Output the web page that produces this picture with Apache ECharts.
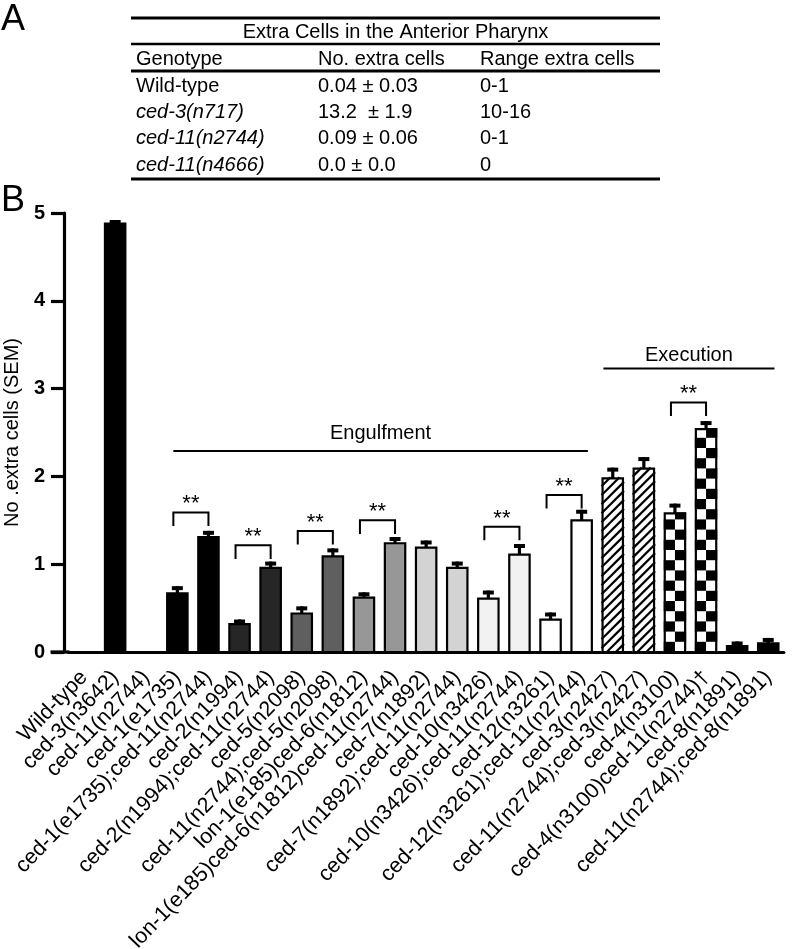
<!DOCTYPE html>
<html><head><meta charset="utf-8">
<script src="https://cdn.jsdelivr.net/npm/echarts@6/dist/echarts.min.js"></script>
<style>html,body{margin:0;padding:0;background:#fff}#c{width:793px;height:949px}</style>
</head><body><div id="c"></div>
<script>
// ---------- Panel A table ----------
const tableTitle = 'Extra Cells in the Anterior Pharynx';
const tableHeader = ['Genotype', 'No. extra cells', 'Range extra cells'];
const tableGenotypes = ['Wild-type', 'ced-3(n717)', 'ced-11(n2744)', 'ced-11(n4666)'];
const tableMeans = ['0.04 \u00b1 0.03', '13.2  \u00b1 1.9', '0.09 \u00b1 0.06', '0.0 \u00b1 0.0'];
const tableRanges = ['0-1', '10-16', '0-1', '0'];
const tableItalic = [false, true, true, true];

// ---------- Panel B chart ----------
const categories = [
  'Wild-type', 'ced-3(n3642)', 'ced-11(n2744)', 'ced-1(e1735)', 'ced-1(e1735);ced-11(n2744)',
  'ced-2(n1994)', 'ced-2(n1994);ced-11(n2744)', 'ced-5(n2098)', 'ced-11(n2744);ced-5(n2098)',
  'lon-1(e185)ced-6(n1812)', 'lon-1(e185)ced-6(n1812)ced-11(n2744)', 'ced-7(n1892)',
  'ced-7(n1892);ced-11(n2744)', 'ced-10(n3426)', 'ced-10(n3426);ced-11(n2744)', 'ced-12(n3261)',
  'ced-12(n3261);ced-11(n2744)', 'ced-3(n2427)', 'ced-11(n2744);ced-3(n2427)', 'ced-4(n3100)',
  'ced-4(n3100)ced-11(n2744)\u2020', 'ced-8(n1891)', 'ced-11(n2744);ced-8(n1891)'
];
const means = [0, 4.89, 0, 0.68, 1.32, 0.33, 0.97, 0.45, 1.10, 0.63, 1.25, 1.20, 0.97, 0.62, 1.12, 0.38, 1.51, 1.99, 2.10, 1.59, 2.55, 0.08, 0.11];
const sems  = [0, 0.03, 0, 0.07, 0.06, 0.04, 0.06, 0.07, 0.08, 0.05, 0.06, 0.07, 0.06, 0.08, 0.11, 0.07, 0.11, 0.11, 0.12, 0.10, 0.08, 0.04, 0.05];
const yTicks = [0, 1, 2, 3, 4, 5];

// significance brackets: [left index, right index], bracket top value
const sigPairs = [[3, 4], [5, 6], [7, 8], [9, 10], [13, 14], [15, 16], [19, 20]];
const sigHeights = [1.59, 1.215, 1.378, 1.50, 1.427, 1.788, 2.843];
const sigLabel = '**';

// groups
const groupNames = ['Engulfment', 'Execution'];
const groupRanges = [[3, 16], [17, 22]];
const groupLineY = [2.29, 3.23];
const groupLabelY = [2.49, 3.38];

// ---------- styles ----------
const FONT = "'Liberation Sans', Arial, Helvetica, sans-serif";
const barFill = ['#ffffff', '#000000', '#ffffff', '#000000', '#000000', '#262626', '#262626',
  '#5f5f5f', '#5f5f5f', '#979797', '#979797', '#d3d3d3', '#d3d3d3', '#f2f2f2', '#f2f2f2',
  '#ffffff', '#ffffff', 'hatch', 'hatch', 'checker', 'checker', '#000000', '#000000'];

const chart = echarts.init(document.getElementById('c'), null, {renderer: 'canvas'});

// table graphics
const tblL = 131, tblR = 660;
const colX = [136, 318, 480];
const rowY = [86, 112, 138, 165];
const g = [];
function hline(y, w) { g.push({type: 'line', shape: {x1: tblL, y1: y, x2: tblR, y2: y}, style: {stroke: '#000', lineWidth: w}, silent: true}); }
function txt(t, x, y, opts) {
  g.push({type: 'text', x: x, y: y, silent: true, style: Object.assign({text: t, fill: '#000', font: '20px ' + FONT, textAlign: 'left', textVerticalAlign: 'middle'}, opts || {})});
}
hline(18, 3); hline(44, 2.5); hline(71, 3); hline(179, 3);
txt(tableTitle, (tblL + tblR) / 2, 32, {textAlign: 'center'});
tableHeader.forEach((h, i) => txt(h, colX[i], 59));
tableGenotypes.forEach((gt, r) => {
  txt(gt, colX[0], rowY[r], {font: (tableItalic[r] ? 'italic ' : '') + '20px ' + FONT});
  txt(tableMeans[r], colX[1], rowY[r]);
  txt(tableRanges[r], colX[2], rowY[r]);
});
txt('A', 1, 20, {font: '36px ' + FONT});
txt('B', 1, 201, {font: '36px ' + FONT});

function renderBar(params, api) {
  const i = api.value(0), v = api.value(1), s = api.value(2);
  const band = api.size([1, 0])[0];
  const bw = band * 0.72;
  const base = api.coord([i, 0]);
  const top = api.coord([i, v]);
  const children = [];
  const fill = barFill[i];
  const x0 = base[0] - bw / 2, x1 = base[0] + bw / 2;
  const y0 = top[1], y1 = base[1];
  if (v > 0) {
    if (fill === 'hatch' || fill === 'checker') {
      children.push({type: 'rect', shape: {x: x0, y: y0, width: bw, height: y1 - y0}, style: {fill: '#fff'}});
      if (fill === 'hatch') {
        const step = 9;
        for (let c = x0 + y0; c < x1 + y1 + step; c += step) {
          const xa = Math.max(x0, c - y1), xb = Math.min(x1, c - y0);
          if (xb > xa) children.push({type: 'line', shape: {x1: xa, y1: c - xa, x2: xb, y2: c - xb}, style: {stroke: '#000', lineWidth: 2.2}});
        }
      } else {
        const cw = bw / 2, ch = 10.2;
        let r = 0;
        for (let yb = y1; yb > y0; yb -= ch, r++) {
          const yt = Math.max(y0, yb - ch);
          for (let c = 0; c < 2; c++) {
            if ((r + c) % 2 === 0) children.push({type: 'rect', shape: {x: x0 + c * cw, y: yt, width: cw, height: yb - yt}, style: {fill: '#000'}});
          }
        }
      }
      children.push({type: 'rect', shape: {x: x0 + 1, y: y0 + 1, width: bw - 2, height: y1 - y0 - 1}, style: {fill: 'none', stroke: '#000', lineWidth: 2.2}});
    } else {
      children.push({type: 'rect', shape: {x: x0 + 1, y: y0 + 1, width: bw - 2, height: y1 - y0 - 1}, style: {fill: fill, stroke: '#000', lineWidth: 2.2}});
    }
    // error bar (upper only)
    const cap = api.coord([i, v + s]);
    children.push({type: 'rect', shape: {x: base[0] - 1.6, y: cap[1], width: 3.2, height: y0 - cap[1] + 1}, style: {fill: '#000'}});
    children.push({type: 'rect', shape: {x: base[0] - 5.5, y: cap[1], width: 11, height: 4}, style: {fill: '#000'}});
  }
  return {type: 'group', children: children};
}

function renderSig(params, api) {
  const a = api.value(0), b = api.value(1), h = api.value(2);
  const pl = api.coord([a, h]), pr = api.coord([b, h]);
  const leg = api.coord([a, h - 0.155])[1];
  const xl = pl[0] - 4, xr = pr[0];
  return {type: 'group', children: [
    {type: 'polyline', shape: {points: [[xl, leg], [xl, pl[1]], [xr, pl[1]], [xr, leg]]}, style: {stroke: '#000', lineWidth: 2, fill: null}},
    {type: 'text', x: (xl + xr) / 2, y: pl[1] - 8, style: {text: sigLabel, font: '22px ' + FONT, fill: '#000', textAlign: 'center', textVerticalAlign: 'middle'}}
  ]};
}

function renderGroup(params, api) {
  const a = api.value(0), b = api.value(1), ly = api.value(2), ty = api.value(3);
  const band = api.size([1, 0])[0];
  const k = params.dataIndex;
  const pa = api.coord([a, ly]), pb = api.coord([b, ly]);
  const xa = k === 0 ? pa[0] - band * 0.13 : pa[0] - band * 0.3;
  const xb = pb[0] + band * 0.2;
  const children = [
    {type: 'line', shape: {x1: xa, y1: pa[1], x2: xb, y2: pa[1]}, style: {stroke: '#000', lineWidth: 2}},
    {type: 'text', x: (xa + xb) / 2, y: api.coord([a, ty])[1], style: {text: groupNames[k], font: '20px ' + FONT, fill: '#000', textAlign: 'center', textVerticalAlign: 'middle'}}
  ];
  if (k === 0) {
    // extend x axis line to the y axis
    const o = api.coord([0, 0]);
    children.push({type: 'line', shape: {x1: o[0] - band / 2 - 18, y1: o[1], x2: o[0] - band / 2 + 1, y2: o[1]}, style: {stroke: '#000', lineWidth: 3.2}});
  }
  return {type: 'group', children: children};
}

const option = {
  animation: false,
  backgroundColor: '#fff',
  textStyle: {fontFamily: FONT},
  graphic: {elements: g},
  grid: {left: 68.5, right: 9.2, top: 213, bottom: 297, containLabel: false, outerBoundsMode: 'none'},
  xAxis: {
    type: 'category', data: categories,
    axisLine: {lineStyle: {color: '#000', width: 3.2}},
    axisTick: {alignWithLabel: true, length: 13, lineStyle: {color: '#000', width: 3.2}},
    axisLabel: {interval: 0, rotate: 46, fontSize: 21.5, color: '#000', fontFamily: FONT, margin: 22},
    splitLine: {show: false}
  },
  yAxis: {
    type: 'value', min: yTicks[0], max: yTicks[yTicks.length - 1], interval: 1, offset: 4.5,
    name: 'No .extra cells (SEM)', nameLocation: 'middle', nameRotate: 90, nameGap: 42,
    nameTextStyle: {fontSize: 20, color: '#000', fontFamily: FONT},
    axisLine: {show: true, lineStyle: {color: '#000', width: 3.2}},
    axisTick: {show: true, length: 13, lineStyle: {color: '#000', width: 3.2}},
    axisLabel: {fontSize: 20, fontWeight: 'bold', color: '#000', fontFamily: FONT, margin: 19},
    splitLine: {show: false}
  },
  series: [
    {type: 'custom', renderItem: renderBar, clip: false, z: 1,
     encode: {x: 0, y: 1}, data: means.map((m, i) => [i, m, sems[i]])},
    {type: 'custom', renderItem: renderSig, clip: false, z: 3,
     encode: {x: 0, y: 2}, data: sigPairs.map((p, k) => [p[0], p[1], sigHeights[k]])},
    {type: 'custom', renderItem: renderGroup, clip: false, z: 3,
     encode: {x: 0, y: 2}, data: groupRanges.map((r, k) => [r[0], r[1], groupLineY[k], groupLabelY[k]])}
  ]
};
chart.setOption(option);
</script></body></html>
